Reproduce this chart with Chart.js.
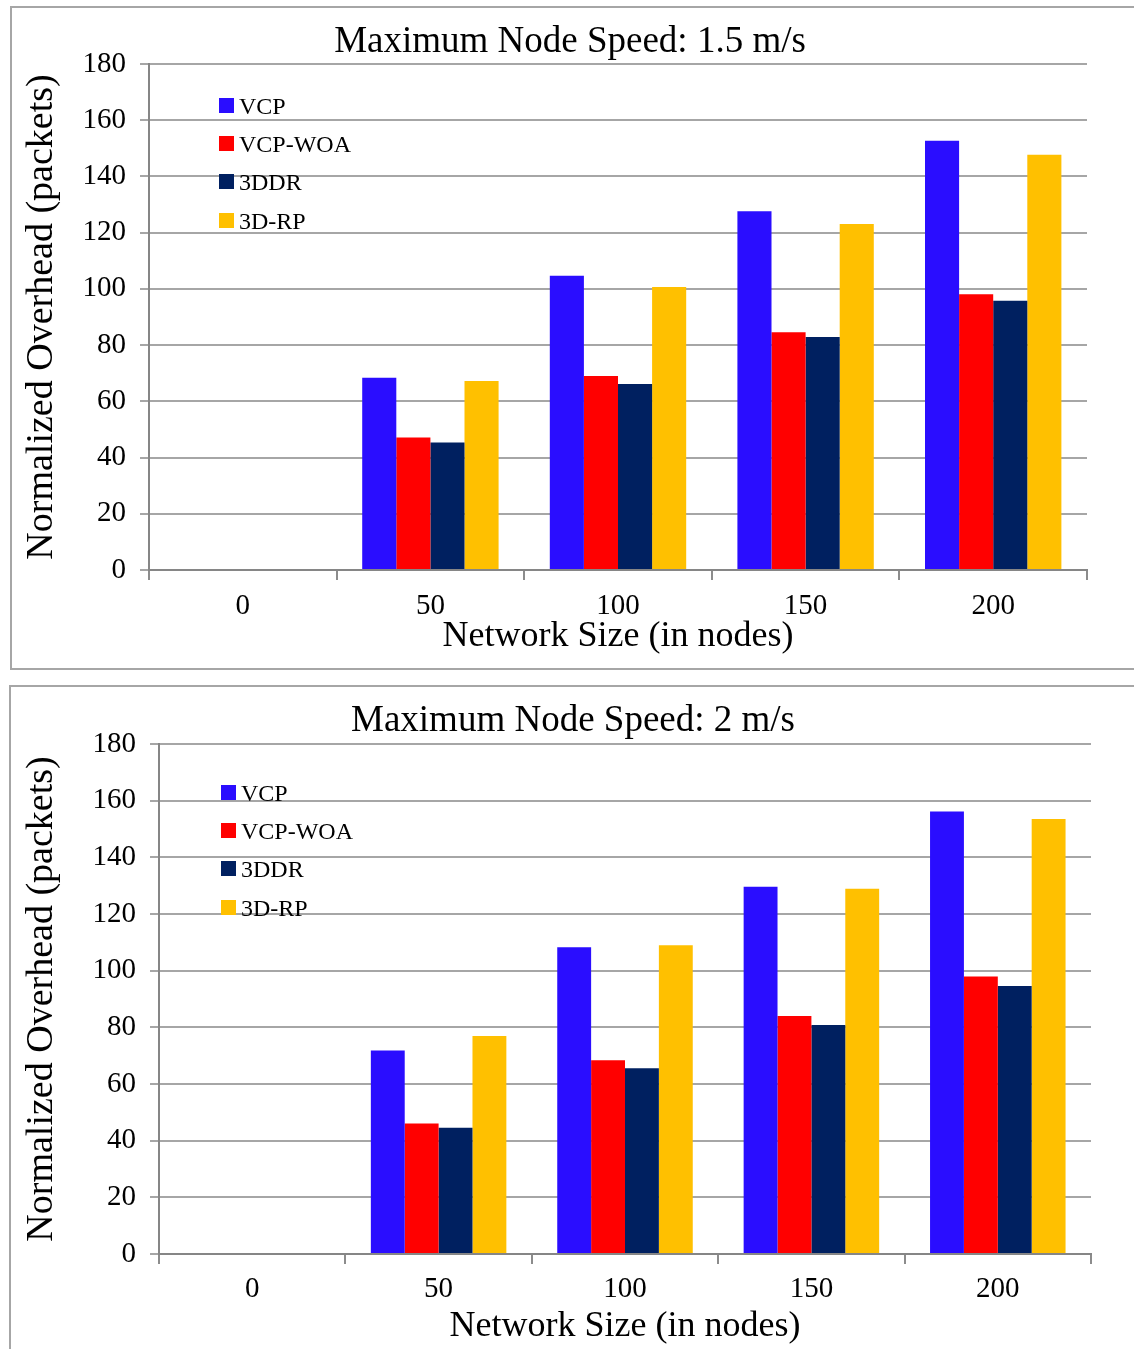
<!DOCTYPE html>
<html>
<head>
<meta charset="utf-8">
<script src="https://cdn.jsdelivr.net/npm/chart.js@4.4.1/dist/chart.umd.min.js"></script>
<style>
  html, body { margin: 0; padding: 0; background: #fff; }
  body { width: 1134px; height: 1349px; position: relative; overflow: hidden; font-family: "Liberation Serif", "Times New Roman", serif; }
  .frame { position: absolute; border: 2px solid #a6a6a6; box-sizing: border-box; }
  .plot { position: absolute; left: 0; }
  .legend { position: absolute; font-size: 24px; color: #000; }
  .legend .row { position: absolute; left: 0; white-space: nowrap; height: 16px; }
  .legend .sw { position: absolute; left: 0; top: 0; width: 15px; height: 15px; }
  .legend .tx { position: absolute; left: 20px; top: -5px; line-height: 26px; }
</style>
</head>
<body>
<div class="frame" style="left:10px; top:6px; width:1140px; height:664px;"></div>
<div class="frame" style="left:9px; top:685px; width:1140px; height:700px;"></div>

<div class="plot" style="top:0; width:1134px; height:678px;"><canvas id="speed15"></canvas></div>
<div class="plot" style="top:676px; width:1134px; height:673px;"><canvas id="speed2"></canvas></div>
<div class="legend" id="legend15" style="left:219px; top:98px;"></div>
<div class="legend" id="legend2" style="left:221px; top:785px;"></div>

<script>
// Network sizes (x categories) and y-axis ticks
const networkSizes = ['0', '50', '100', '150', '200'];
const yTicks = [0, 20, 40, 60, 80, 100, 120, 140, 160, 180];

const protocols = ['VCP', 'VCP-WOA', '3DDR', '3D-RP'];
const protocolColors = ['#2A0DFF', '#FF0000', '#002060', '#FFC000'];

// Normalized overhead (packets), maximum node speed 1.5 m/s
const vcp15    = [0, 68.4, 104.7, 127.6, 152.7];
const vcpWoa15 = [0, 47.1, 69.0, 84.6, 98.1];
const ddr15    = [0, 45.4, 66.2, 82.9, 95.8];
const rp15     = [0, 67.2, 100.7, 123.1, 147.7];

// Normalized overhead (packets), maximum node speed 2 m/s
const vcp2    = [0, 71.8, 108.3, 129.6, 156.2];
const vcpWoa2 = [0, 46.1, 68.4, 84.0, 97.9];
const ddr2    = [0, 44.6, 65.6, 80.8, 94.6];
const rp2     = [0, 76.9, 109.0, 128.9, 153.5];

const FONT = "'Liberation Serif', 'Times New Roman', serif";

// Chart heading drawn at a fixed centre above the plot area
const headlinePlugin = {
  id: 'headline',
  afterDraw(chart, args, opts) {
    const ctx = chart.ctx;
    ctx.save();
    ctx.font = `${opts.size}px ${FONT}`;
    ctx.fillStyle = '#000';
    ctx.textAlign = 'center';
    ctx.textBaseline = 'alphabetic';
    ctx.fillText(opts.text, opts.x, opts.y);
    ctx.restore();
  }
};

function buildChart(canvasId, title, series, geom) {
  const datasets = series.map((values, i) => ({
    label: protocols[i],
    data: values,
    backgroundColor: protocolColors[i],
    borderWidth: 0,
    categoryPercentage: 0.727,
    barPercentage: 1.0
  }));

  return new Chart(document.getElementById(canvasId), {
    type: 'bar',
    data: { labels: networkSizes, datasets },
    plugins: [headlinePlugin],
    options: {
      responsive: true,
      maintainAspectRatio: false,
      animation: false,
      layout: { padding: { left: 0, right: geom.padRight, top: geom.padTop, bottom: 0 } },
      plugins: {
        legend: { display: false },
        tooltip: { enabled: false },
        title: { display: false },
        headline: { text: title, size: 37, x: geom.titleX, y: geom.titleY }
      },
      scales: {
        x: {
          grid: { offset: true, drawOnChartArea: false, drawTicks: true, tickLength: 10, color: '#8c8c8c', lineWidth: 2 },
          border: { color: '#868686', width: 2 },
          ticks: { color: '#000', font: { family: FONT, size: 29 }, padding: geom.xTickPad, maxRotation: 0 },
          title: {
            display: true,
            text: 'Network Size (in nodes)',
            color: '#000',
            font: { family: FONT, size: 36, lineHeight: 1.2 },
            padding: { top: 0, bottom: geom.xTitleBottom }
          },
          afterFit: (scale) => { scale.height = geom.xHeight; }
        },
        y: {
          min: 0,
          max: 180,
          afterBuildTicks: (scale) => { scale.ticks = yTicks.map(v => ({ value: v })); },
          grid: { color: '#a6a6a6', lineWidth: 2, tickLength: 9, drawTicks: true },
          border: { color: '#868686', width: 2 },
          ticks: { color: '#000', font: { family: FONT, size: 29 }, padding: 14 },
          title: {
            display: true,
            text: 'Normalized Overhead (packets)',
            color: '#000',
            font: { family: FONT, size: 38, lineHeight: 1.2 },
            padding: { top: 19, bottom: 0 }
          },
          afterFit: (scale) => { scale.width = geom.yWidth; }
        }
      }
    }
  });
}

function buildLegend(id) {
  const box = document.getElementById(id);
  protocols.forEach((name, i) => {
    const row = document.createElement('div');
    row.className = 'row';
    row.style.top = (i * 38.2) + 'px';
    const sw = document.createElement('span');
    sw.className = 'sw';
    sw.style.background = protocolColors[i];
    const tx = document.createElement('span');
    tx.className = 'tx';
    tx.textContent = name;
    row.appendChild(sw);
    row.appendChild(tx);
    box.appendChild(row);
  });
}

buildChart('speed15', 'Maximum Node Speed: 1.5 m/s', [vcp15, vcpWoa15, ddr15, rp15], {
  padRight: 47, padTop: 64, titleX: 570, titleY: 52, yWidth: 149, xHeight: 108, xTickPad: 9, xTitleBottom: 20
});
buildChart('speed2', 'Maximum Node Speed: 2 m/s', [vcp2, vcpWoa2, ddr2, rp2], {
  padRight: 43, padTop: 68, titleX: 573, titleY: 55, yWidth: 159, xHeight: 95, xTickPad: 8, xTitleBottom: 1
});
buildLegend('legend15');
buildLegend('legend2');
</script>
</body>
</html>
